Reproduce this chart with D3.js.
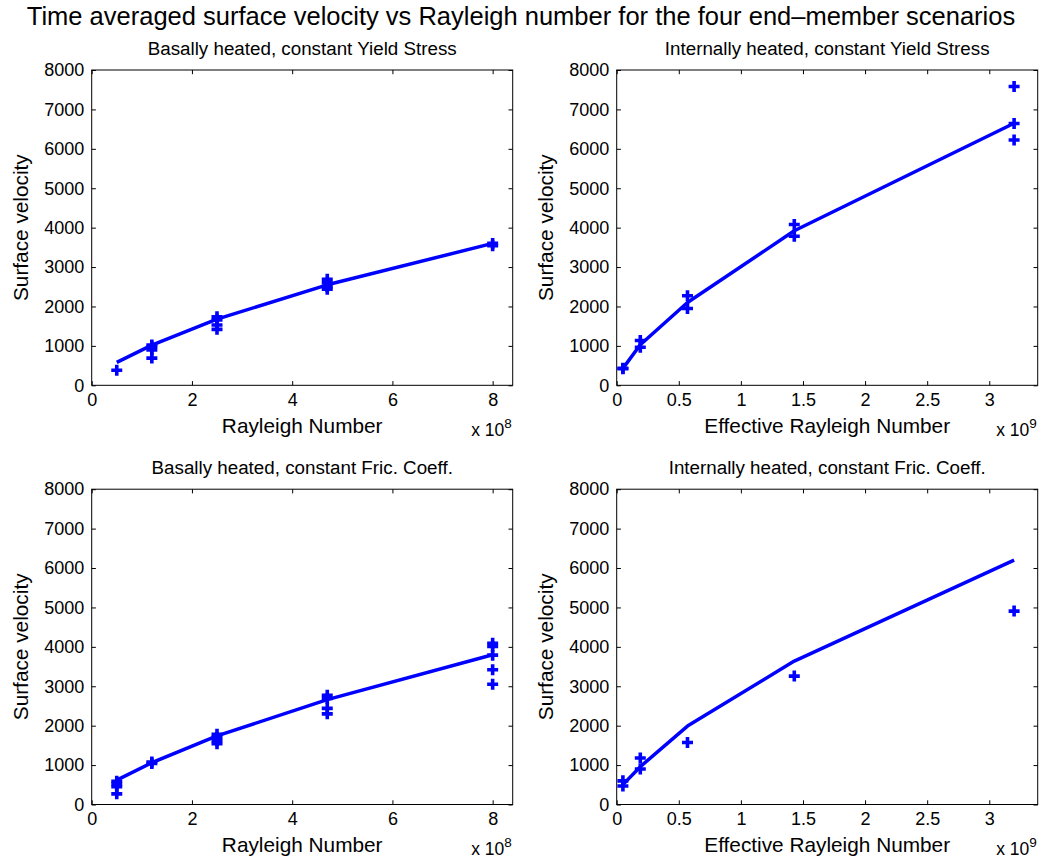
<!DOCTYPE html>
<html>
<head>
<meta charset="utf-8">
<script src="https://cdn.jsdelivr.net/npm/d3@7/dist/d3.min.js"></script>
<style>
  html, body { margin: 0; padding: 0; background: #fff; }
  svg { display: block; }
  text { font-family: "Liberation Sans", Arial, Helvetica, sans-serif; fill: #000; }
</style>
</head>
<body>
<svg id="chart" width="1041" height="866"></svg>
<script>
// ---------------- DATA ----------------
const mainTitle = "Time averaged surface velocity vs Rayleigh number for the four end\u2013member scenarios";
const panelTitles = [
  "Basally heated, constant Yield Stress",
  "Internally heated, constant Yield Stress",
  "Basally heated, constant Fric. Coeff.",
  "Internally heated, constant Fric. Coeff."
];
const xLabels = ["Rayleigh Number", "Effective Rayleigh Number", "Rayleigh Number", "Effective Rayleigh Number"];
const yLabel = "Surface velocity";
const xExponents = ["8", "9", "8", "9"];

// Rayleigh numbers (x 1e8 for basal, x 1e9 for internal)
const raBasal = [0.5, 1.2, 2.5, 4.7, 8.0];
const raInternal = [0.05, 0.19, 0.57, 1.43, 3.2];

const yTicks = [0, 1000, 2000, 3000, 4000, 5000, 6000, 7000, 8000];
const xTicksBasal = [0, 2, 4, 6, 8];
const xTicksInternal = [0, 0.5, 1, 1.5, 2, 2.5, 3];
const xTickLabelsBasal = ["0", "2", "4", "6", "8"];
const xTickLabelsInternal = ["0", "0.5", "1", "1.5", "2", "2.5", "3"];

// Fitted curves (solid line)
const fitBasalYield = [580, 1020, 1680, 2550, 3600];
const fitInternalYield = [430, 1030, 2100, 3920, 6650];
const fitBasalFric = [620, 1060, 1740, 2660, 3800];
const fitInternalFric = [505, 960, 1990, 3640, 6200];

// Individual runs (markers), one list per Rayleigh number
const runsBasalYield = [[380], [1020, 980, 900, 690], [1740, 1660, 1530, 1420], [2690, 2600, 2500, 2440], [3600, 3540]];
const runsInternalYield = [[432, 420], [1135, 967], [2272, 1950], [4079, 3781], [7583, 6641, 6224]];
const runsBasalFric = [[590, 520, 450, 270], [1080, 1040], [1780, 1700, 1620, 1540], [2770, 2690, 2440, 2300], [4090, 4010, 3790, 3420, 3050]];
const runsInternalFric = [[600, 470], [1180, 900], [1573], [3258], [4907]];

// ---------------- LAYOUT ----------------
const svg = d3.select("#chart");
const W = 1041, H = 866;
const colLeft = [91.7, 616.7];
const rowTop = [70, 489.2];
const axW = 421, axH = 315.3;
const xMax = [8.4, 3.39];
const blue = "#0000ff";

svg.append("rect").attr("width", W).attr("height", H).attr("fill", "#fff");

svg.append("text")
  .attr("x", 521).attr("y", 25)
  .attr("text-anchor", "middle")
  .attr("font-size", 25.5)
  .text(mainTitle);

const panels = [
  { ra: raBasal, fit: fitBasalYield, runs: runsBasalYield, ticks: xTicksBasal, tickLabels: xTickLabelsBasal, col: 0, row: 0 },
  { ra: raInternal, fit: fitInternalYield, runs: runsInternalYield, ticks: xTicksInternal, tickLabels: xTickLabelsInternal, col: 1, row: 0 },
  { ra: raBasal, fit: fitBasalFric, runs: runsBasalFric, ticks: xTicksBasal, tickLabels: xTickLabelsBasal, col: 0, row: 1 },
  { ra: raInternal, fit: fitInternalFric, runs: runsInternalFric, ticks: xTicksInternal, tickLabels: xTickLabelsInternal, col: 1, row: 1 }
];

panels.forEach((p, i) => {
  const g = svg.append("g").attr("transform", `translate(${colLeft[p.col]},${rowTop[p.row]})`);
  const x = d3.scaleLinear().domain([0, xMax[p.col]]).range([0, axW]);
  const y = d3.scaleLinear().domain([0, 8000]).range([axH, 0]);
  const tl = 4.2;

  // ticks (inward, mirrored)
  const xAxB = d3.axisBottom(x).tickValues(p.ticks).tickFormat((d, j) => p.tickLabels[j]).tickSizeInner(-tl).tickSizeOuter(0).tickPadding(8);
  const gxb = g.append("g").attr("transform", `translate(0,${axH})`).call(xAxB);
  const xAxT = d3.axisTop(x).tickValues(p.ticks).tickFormat("").tickSizeInner(-tl).tickSizeOuter(0);
  const gxt = g.append("g").call(xAxT);
  const yAxL = d3.axisLeft(y).tickValues(yTicks).tickFormat(d3.format("d")).tickSizeInner(-tl).tickSizeOuter(0).tickPadding(7.5);
  const gyl = g.append("g").call(yAxL);
  const yAxR = d3.axisRight(y).tickValues(yTicks).tickFormat("").tickSizeInner(-tl).tickSizeOuter(0);
  const gyr = g.append("g").attr("transform", `translate(${axW},0)`).call(yAxR);
  [gxb, gxt, gyl, gyr].forEach(a => {
    a.select(".domain").remove();
    a.selectAll("line").attr("stroke", "#000").attr("stroke-width", 1);
    a.selectAll("text").attr("font-size", 18).attr("font-family", "Liberation Sans, Arial, sans-serif").attr("fill", "#000");
  });
  gxb.selectAll("text").attr("dy", "0.71em");

  // frame
  g.append("rect").attr("x", 0).attr("y", 0).attr("width", axW).attr("height", axH)
    .attr("fill", "none").attr("stroke", "#000").attr("stroke-width", 1);

  // fit line
  const line = d3.line().x((d, j) => x(p.ra[j])).y(d => y(d));
  g.append("path").datum(p.fit).attr("d", line)
    .attr("fill", "none").attr("stroke", blue).attr("stroke-width", 3.5)
    .attr("stroke-linejoin", "round");

  // markers
  const pts = [];
  p.runs.forEach((vals, j) => vals.forEach(v => pts.push({ xv: p.ra[j], yv: v })));
  const arm = 5.5;
  g.selectAll("path.run").data(pts).enter().append("path")
    .attr("class", "run")
    .attr("d", d => {
      const cx = x(d.xv), cy = y(d.yv);
      return `M${cx - arm},${cy}H${cx + arm}M${cx},${cy - arm}V${cy + arm}`;
    })
    .attr("stroke", blue).attr("stroke-width", 3.6).attr("fill", "none");

  // titles and labels
  g.append("text").attr("x", axW / 2).attr("y", -15).attr("text-anchor", "middle")
    .attr("font-size", 18.8).text(panelTitles[i]);
  g.append("text").attr("x", axW / 2).attr("y", axH + 48).attr("text-anchor", "middle")
    .attr("font-size", 20.8).text(xLabels[i]);
  g.append("text").attr("transform", `translate(${-63.5},${axH / 2}) rotate(-90)`)
    .attr("text-anchor", "middle").attr("font-size", 20.8).text(yLabel);
  const ex = g.append("text").attr("x", axW - 41.5).attr("y", axH + 51).attr("font-size", 17.5);
  ex.append("tspan").text("x 10");
  ex.append("tspan").attr("font-size", 13.5).attr("dy", -8).text(xExponents[i]);
});
</script>
</body>
</html>
